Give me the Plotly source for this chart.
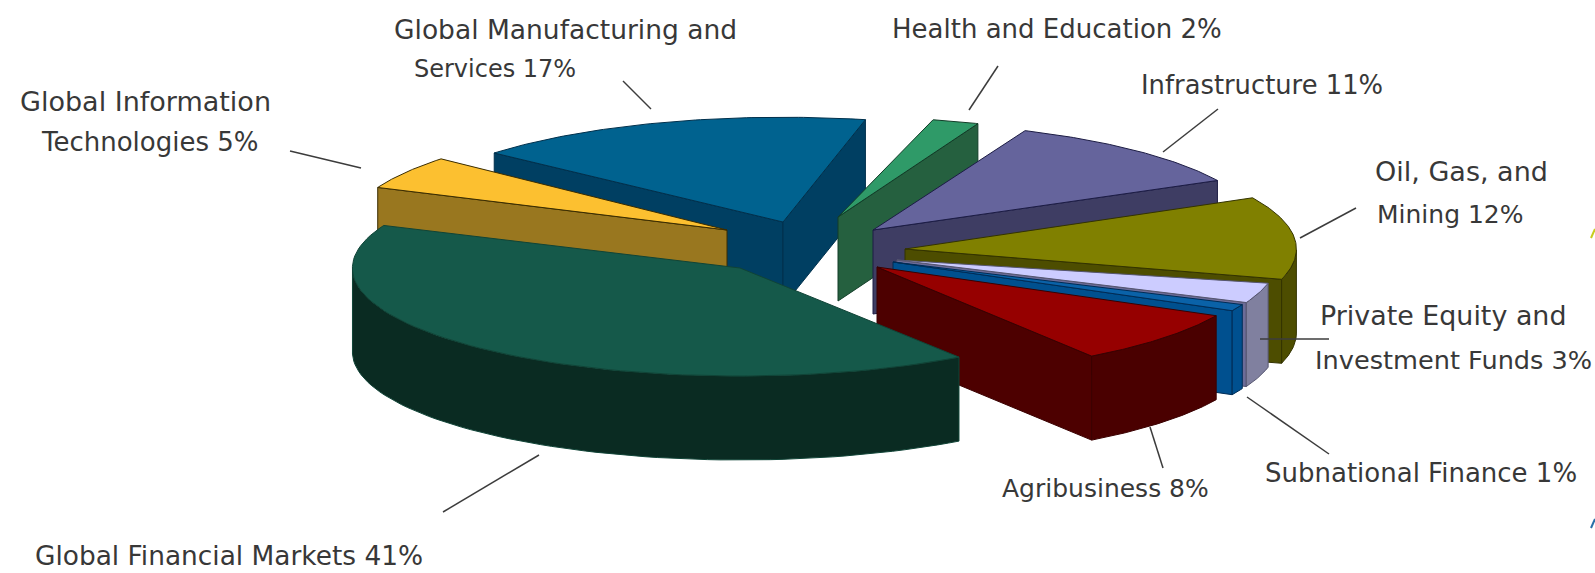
import numpy as np
import plotly.graph_objects as go

# ---- data (clockwise on screen, starting at the Global Financial Markets slice)
categories = ["Global Financial Markets", "Global Information Technologies",
              "Global Manufacturing and Services", "Health and Education",
              "Infrastructure", "Oil, Gas, and Mining",
              "Private Equity and Investment Funds", "Subnational Finance", "Agribusiness"]
shares = [41, 5, 17, 2, 11, 12, 3, 1, 8]

# ---- look of each slice
top_colors = ["#15594a", "#fcc030", "#00628f", "#2f9a68", "#65649c", "#808000", "#ccccff", "#0a62a8", "#960000"]
radial_colors = ["#0a2b22", "#99771f", "#003f62", "#25603f", "#3e3d63", "#4d4d00", "#6c6c98", "#00508f", "#4d0000"]
arc_colors = ["#0a2b22", "#99771f", "#003f62", "#25603f", "#3e3d63", "#4d4d00", "#80809f", "#00508f", "#4a0000"]
outlines = ["#104437", "#3a2c00", "#00304c", "#123d28", "#1c1c44", "#333300", "#555570", "#002c55", "#3a0000"]

# ---- pseudo-3D pie projection
START_DEG = 55.6
RX, RY, DEPTH = 380, 108, 84
CX, CY = 860, 245
pull_dx = [-120, -133, -77, -22, 13, 45, 37, 33, 17]
pull_dy = [23, -15, -23, -28, -15, 4, 15, 17, 22]
scale_x = [1.02, 1.0, 1.01, 1.0, 1.02, 1.03, 1.0, 1.0, 1.0]
scale_y = [1.0, 1.0, 0.97, 0.93, 1.0, 1.03, 1.0, 1.0, 1.0]
turn_deg = [0, 0, 0, 2.0, 3.5, 3.4, 0, 0, 0]
draw_order = [2, 3, 4, 5, 6, 7, 8, 1, 0]

# ---- labels and leaders
label_lines = [
    ("Global Financial Markets 41%", 33, 555, 26.4),
    ("Global Information", 18, 101, 27), ("Technologies 5%", 39, 142, 26),
    ("Global Manufacturing and", 392, 29, 26.5), ("Services 17%", 412, 69, 24),
    ("Health and Education 2%", 890, 29, 26),
    ("Infrastructure 11%", 1139, 85, 25.8),
    ("Oil, Gas, and", 1373, 171, 27), ("Mining 12%", 1375, 214, 25),
    ("Private Equity and", 1318, 315, 26.9), ("Investment Funds 3%", 1313, 360, 25.6),
    ("Subnational Finance 1%", 1263, 473, 26),
    ("Agribusiness 8%", 1000, 488, 25),
]
leaders = [
    (539, 455, 443, 512), (290, 151, 361, 168), (623, 81, 651, 109),
    (998, 66, 969, 110), (1218, 109, 1163, 152), (1356, 208, 1300, 238),
    (1260, 339, 1329, 339), (1247, 397, 1329, 454), (1150, 427, 1163, 468),
]

fig = go.Figure()
fracs = np.array(shares, dtype=float) / sum(shares) * 360.0
starts = START_DEG + np.concatenate([[0.0], np.cumsum(fracs)[:-1]])


def add_poly(xs, ys, fill, line, name):
    fig.add_trace(go.Scatter(x=list(xs) + [xs[0]], y=list(ys) + [ys[0]], mode="lines", fill="toself",
                             fillcolor=fill, line=dict(color=line, width=1), name=name,
                             hoverinfo="name", showlegend=False))


for i in draw_order:
    a0, a1 = starts[i] + turn_deg[i], starts[i] + fracs[i] + turn_deg[i]
    ax, ay = CX + pull_dx[i], CY + pull_dy[i]
    rx, ry = RX * scale_x[i], RY * scale_y[i]
    t = np.radians(np.linspace(a0, a1, 80))
    ex, ey = ax + rx * np.cos(t), ay + ry * np.sin(t)
    label = f"{categories[i]} {shares[i]}%"
    # radial wall on the start edge
    if np.cos(t[0]) < 0:
        add_poly([ax, ex[0], ex[0], ax], [ay, ey[0], ey[0] + DEPTH, ay + DEPTH], radial_colors[i], outlines[i], label)
    # radial wall on the end edge
    if np.cos(t[-1]) > 0:
        add_poly([ax, ex[-1], ex[-1], ax], [ay, ey[-1], ey[-1] + DEPTH, ay + DEPTH], radial_colors[i], outlines[i], label)
    # outer wall, where it faces the viewer
    vis = np.sin(t) > 0
    if vis.sum() > 1:
        add_poly(np.concatenate([ex[vis], ex[vis][::-1]]), np.concatenate([ey[vis], ey[vis][::-1] + DEPTH]),
                 arc_colors[i], outlines[i], label)
    # top face
    add_poly(np.concatenate([[ax], ex]), np.concatenate([[ay], ey]), top_colors[i], outlines[i], label)

shapes = [dict(type="line", xref="x", yref="y", x0=a, y0=b, x1=c, y1=d, line=dict(color="#3c3c3c", width=1.5))
          for a, b, c, d in leaders]
shapes += [
    dict(type="line", xref="x", yref="y", x0=1591, y0=238, x1=1595, y1=229, line=dict(color="#c8cc20", width=2)),
    dict(type="line", xref="x", yref="y", x0=1591, y0=528, x1=1595, y1=519, line=dict(color="#2a70a8", width=2)),
]
annotations = [dict(text=txt, x=x, y=y, xref="x", yref="y", xanchor="left", yanchor="middle", showarrow=False,
                    font=dict(family="DejaVu Sans", size=size, color="#383838"))
               for txt, x, y, size in label_lines]

fig.update_layout(
    width=1595, height=573, margin=dict(l=0, r=0, t=0, b=0),
    paper_bgcolor="white", plot_bgcolor="white", showlegend=False,
    xaxis=dict(range=[0, 1595], visible=False, fixedrange=True),
    yaxis=dict(range=[573, 0], visible=False, fixedrange=True),
    shapes=shapes, annotations=annotations,
)
fig.write_html("out.html", config=dict(displayModeBar=False),
               post_script="document.body.style.margin='0';document.body.style.overflow='hidden';")
